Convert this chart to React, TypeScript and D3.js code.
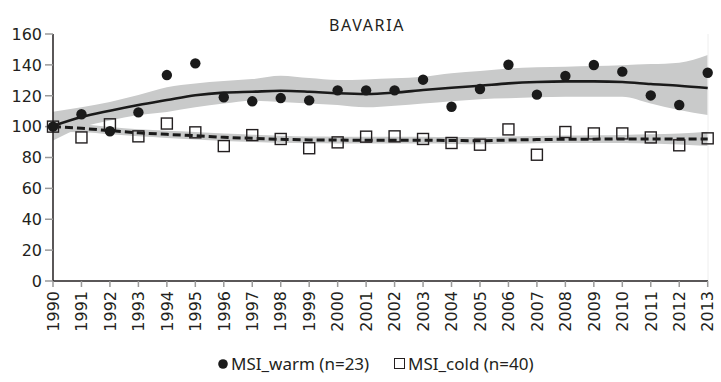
import React from "react";
import * as d3 from "d3";

const years = d3.range(1990, 2014);

const warmValues = [100, 108, 97, 109.2, 133.4, 141, 119, 116.4, 118.5, 117, 123.5, 123.5, 123.5, 130.4, 112.9, 124.4, 140.1, 120.7, 132.8, 139.9, 135.6, 120.2, 114, 134.9];
const coldValues = [100, 93, 101.5, 93.7, 102, 96.3, 87.4, 94.5, 92, 86, 89.8, 93.5, 93.7, 92, 89.4, 88.3, 98.2, 81.8, 96.5, 95.6, 95.6, 93, 87.9, 92.4];

const warmTrend = [100.4, 106.2, 110.3, 114, 117.2, 120.3, 122, 122.6, 123.2, 122.6, 121.6, 121.1, 122, 123.7, 125.2, 126.5, 128, 128.9, 129.3, 129.3, 128.9, 127.6, 126.5, 125];
const warmUpper = [109.6, 112.5, 116, 120.5, 125.5, 128, 129.5, 130.8, 133, 131.5, 130.2, 130.6, 131.3, 132.3, 134.5, 136, 137.7, 138.5, 138.8, 139.2, 139.8, 140.5, 141.4, 146.4];
const warmLower = [91, 99.5, 104, 107.5, 109.5, 112.5, 115, 116.8, 116, 115, 114, 112.5, 113.5, 115, 116.5, 117.8, 118.3, 119, 119.4, 119.4, 119.4, 115, 110.7, 107.5];

const coldTrend = [100, 98.9, 97.4, 96, 95, 94.1, 93.1, 92.4, 91.8, 91.4, 91.3, 91.2, 91.2, 91.2, 91, 90.9, 91.3, 91.6, 91.8, 91.9, 92, 92, 92, 92];
const coldUpper = [103.5, 101.5, 99.8, 98.3, 97.3, 96.5, 95.5, 94.8, 94.1, 93.6, 93.5, 93.4, 93.4, 93.4, 93.2, 93.2, 93.6, 93.9, 94.2, 94.4, 94.6, 95, 95.6, 96.7];
const coldLower = [96.5, 96.3, 95, 93.7, 92.7, 91.7, 90.7, 90, 89.5, 89.2, 89.1, 89, 89, 89, 88.8, 88.6, 89, 89.3, 89.4, 89.4, 89.4, 89, 88.4, 87.4];

const yTicks = [0, 20, 40, 60, 80, 100, 120, 140, 160];

const title = "BAVARIA";
const warmLabel = "MSI_warm (n=23)";
const coldLabel = "MSI_cold (n=40)";

export default function App() {
  const width = 721;
  const height = 382;
  const x = d3.scaleLinear().domain([1990, 2013]).range([53, 707.7]);
  const y = d3.scaleLinear().domain([0, 160]).range([281, 34]);

  const line = (vals: number[]) =>
    d3.line<number>().x((_, i) => x(years[i])).y((d) => y(d)).curve(d3.curveMonotoneX)(vals) || "";
  const band = (lo: number[], hi: number[]) =>
    d3
      .area<number>()
      .x((_, i) => x(years[i]))
      .y0((_, i) => y(lo[i]))
      .y1((_, i) => y(hi[i]))
      .curve(d3.curveMonotoneX)(years) || "";

  const axisFont = "'DejaVu Sans', sans-serif";
  const textFont = "'Noto Sans', 'Open Sans', sans-serif";
  const ink = "#231f20";

  return (
    <svg width={width} height={height} style={{ position: "absolute", left: 0, top: 0, background: "#fff" }}>
      <text x={367} y={31} textAnchor="middle" fontFamily={textFont} fontSize={16} letterSpacing={1.6} fill={ink}>
        {title}
      </text>

      {/* confidence bands */}
      <path d={band(warmLower, warmUpper)} fill="#c9caca" />
      <path d={band(coldLower, coldUpper)} fill="#c9caca" />

      {/* right frame edge */}
      <line x1={708} x2={708} y1={34} y2={281} stroke="#eeeeee" strokeWidth={1} />

      {/* y axis */}
      <line x1={53} x2={53} y1={34} y2={281} stroke={ink} strokeWidth={1.5} />
      {yTicks.map((t) => (
        <g key={t}>
          <line x1={45} x2={53} y1={y(t)} y2={y(t)} stroke="#9a9a9a" strokeWidth={1.5} />
          <text x={42} y={y(t)} dy="0.36em" textAnchor="end" fontFamily={axisFont} fontSize={16} fill={ink}>
            {t}
          </text>
        </g>
      ))}

      {/* x axis */}
      <line x1={53} x2={708} y1={281} y2={281} stroke={ink} strokeWidth={1.5} />
      {years.map((yr) => (
        <g key={yr}>
          <line x1={x(yr)} x2={x(yr)} y1={281} y2={287} stroke="#9a9a9a" strokeWidth={1.5} />
          <text
            transform={`translate(${x(yr)},${291}) rotate(-90)`}
            dy="0.36em"
            textAnchor="end"
            fontFamily={axisFont}
            fontSize={16}
            fill={ink}
          >
            {yr}
          </text>
        </g>
      ))}

      {/* trend lines */}
      <path d={line(warmTrend)} fill="none" stroke="#1a1a1a" strokeWidth={2.6} />
      <path d={line(coldTrend)} fill="none" stroke="#1a1a1a" strokeWidth={3} strokeDasharray="8,4" />

      {/* observed index values */}
      {coldValues.map((v, i) => (
        <rect
          key={`c${i}`}
          x={x(years[i]) - 5.5}
          y={y(v) - 5.5}
          width={11}
          height={11}
          fill="none"
          stroke="#231f20"
          strokeWidth={1.4}
        />
      ))}
      {warmValues.map((v, i) => (
        <circle key={`w${i}`} cx={x(years[i])} cy={y(v)} r={5.2} fill="#1a1a1a" />
      ))}

      {/* legend */}
      <circle cx={223} cy={364} r={4.8} fill="#1a1a1a" />
      <text x={231} y={369.5} fontFamily={textFont} fontSize={17} fill={ink}>
        {warmLabel}
      </text>
      <rect x={394.5} y={358.5} width={10} height={10} fill="none" stroke={ink} strokeWidth={1} />
      <text x={408} y={369.5} fontFamily={textFont} fontSize={17} fill={ink}>
        {coldLabel}
      </text>
    </svg>
  );
}
